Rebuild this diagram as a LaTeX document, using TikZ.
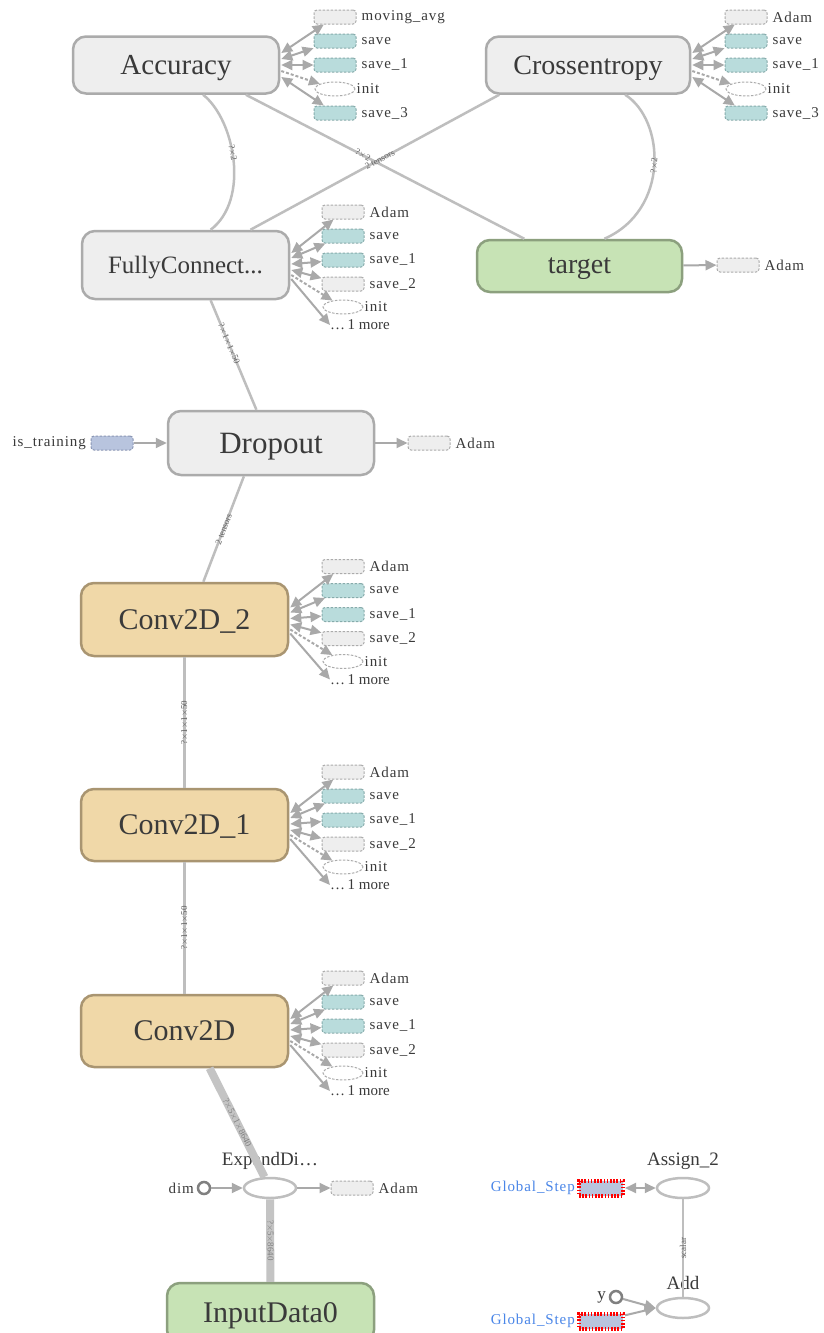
\documentclass[tikz,border=0pt]{standalone}
\usepackage{fontspec}
\setmainfont{Liberation Serif}
\newfontfamily\auxfont[LetterSpace=6]{Liberation Serif}
\usetikzlibrary{arrows.meta,shapes.geometric,calc}

\definecolor{opfill}{HTML}{EEEEEE}
\definecolor{opdraw}{HTML}{ABABAB}
\definecolor{convfill}{HTML}{F0D8A8}
\definecolor{convdraw}{HTML}{A99571}
\definecolor{datafill}{HTML}{C7E3B5}
\definecolor{datadraw}{HTML}{8CA07E}
\definecolor{edgec}{HTML}{BEBEBE}
\definecolor{thickc}{HTML}{C4C4C4}
\definecolor{tipc}{HTML}{A9A9A9}
\definecolor{savefill}{HTML}{B9DCDC}
\definecolor{savedraw}{HTML}{86ABAB}
\definecolor{varfill}{HTML}{B8C4DE}
\definecolor{vardraw}{HTML}{8A96B4}
\definecolor{stepblue}{HTML}{4A86E8}
\definecolor{txt}{HTML}{3A3A3A}
\definecolor{lbl}{HTML}{606060}

\newcommand{\fs}[1]{\fontsize{#1}{#1}\selectfont}

% one auxiliary item: box/ellipse plus its label to the right
\newcommand{\auxitem}[5]{%
  \node[#2] (#1) at (#3,#4) {};
  \node[auxlbl] (#1-l) at ($(#1.east)+(5,0)$) {#5};}
% the "... 1 more" entry, which has no box
\newcommand{\moreitem}[3]{%
  \node[auxlbl, font=\fs{15}] (#1) at (#2,#3) {\ldots\,1 more};}
% connector from a group's right border to an auxiliary item
\newcommand{\auxlink}[4]{%
  \draw[#1] ($(#2.east)+(1,#4)$) -- (#3);}

\tikzset{
  x=1pt, y=-1pt,
  group/.style={rectangle, rounded corners=13pt, line width=2.5pt,
    draw=opdraw, fill=opfill, text=txt, inner sep=0pt, text depth=0pt},
  convgrp/.style={group, draw=convdraw, fill=convfill},
  datagrp/.style={group, draw=datadraw, fill=datafill},
  auxgray/.style={rectangle, rounded corners=3pt, draw=opdraw, line width=1pt,
    dash pattern=on 2.5pt off 1.5pt, fill=opfill,
    minimum width=42pt, minimum height=14pt, inner sep=0pt},
  auxsave/.style={auxgray, draw=savedraw, fill=savefill},
  auxvar/.style={auxgray, draw=vardraw, fill=varfill},
  auxinit/.style={ellipse, draw=opdraw, line width=1pt,
    dash pattern=on 2.5pt off 1.5pt, fill=white,
    minimum width=40pt, minimum height=14pt, inner sep=0pt},
  auxlbl/.style={anchor=west, font=\auxfont\fs{15}, text=txt, inner sep=0pt},
  flow/.style={draw=edgec, line width=2.5pt},
  thick flow/.style={draw=thickc, line width=8pt},
  tip/.style={-{Triangle[length=11pt,width=10pt,color=tipc]}},
  both tips/.style={{Triangle[length=11pt,width=10pt,color=tipc]}-{Triangle[length=11pt,width=10pt,color=tipc]}},
  ctrl/.style={draw=tipc, line width=2pt, both tips},
  ctrlone/.style={draw=tipc, line width=2pt, tip},
  ctrldash/.style={draw=tipc, line width=2pt, tip, dash pattern=on 3pt off 2pt},
  elabel/.style={sloped, font=\fs{9}, text=lbl, inner sep=1pt},
  opnode/.style={ellipse, draw=edgec, line width=2.5pt, fill=white,
    minimum width=52pt, minimum height=20pt, inner sep=0pt},
  const/.style={circle, draw=gray, line width=2.5pt, fill=white,
    minimum size=12pt, inner sep=0pt},
  steplbl/.style={anchor=east, font=\auxfont\fs{15}, text=stepblue, inner sep=0pt},
  stepvar/.style={rectangle, draw=red, line width=4pt,
    dash pattern=on 1.6pt off 1.6pt, fill=varfill,
    minimum width=44pt, minimum height=15pt, inner sep=0pt},
  oplbl/.style={font=\fs{19}, text=txt, inner sep=0pt},
}

\begin{document}
\begin{tikzpicture}
\useasboundingbox[fill=white] (0,0) rectangle (823,1333);

% ---------- main groups ----------
\node[group, minimum width=206pt, minimum height=57pt, font=\fs{29}] (acc) at (176,65) {Accuracy};
\node[group, minimum width=204pt, minimum height=57pt, font=\fs{28}] (xent) at (588,65) {Crossentropy};
\node[group, minimum width=207pt, minimum height=68pt, font=\fs{25}] (fc) at (185.5,265) {FullyConnect...};
\node[datagrp, minimum width=205pt, minimum height=52pt, font=\fs{28}] (target) at (579.5,266) {target};
\node[group, minimum width=206pt, minimum height=64pt, font=\fs{31}] (drop) at (271,443) {Dropout};
\node[convgrp, minimum width=207pt, minimum height=73pt, font=\fs{30}] (conv2) at (184.5,619.5) {Conv2D\_2};
\node[convgrp, minimum width=207pt, minimum height=72pt, font=\fs{30}] (conv1) at (184.5,825) {Conv2D\_1};
\node[convgrp, minimum width=207pt, minimum height=72pt, font=\fs{30}] (conv0) at (184.5,1031) {Conv2D};
\node[datagrp, minimum width=207pt, minimum height=60pt, font=\fs{30}] (input) at (270.5,1313) {InputData0};

% ---------- data-flow edges between groups ----------
\draw[flow] ($(fc.north west)!0.62!(fc.north east)$)
  .. controls (250,200) and (235,120) ..
  node[elabel, pos=0.55] {?$\times$2} ($(acc.south west)!0.63!(acc.south east)$);
\draw[flow] ($(target.north west)!0.234!(target.north east)$)
  -- node[elabel, pos=0.58] {?$\times$2} ($(acc.south west)!0.835!(acc.south east)$);
\draw[flow] ($(fc.north west)!0.81!(fc.north east)$)
  -- node[elabel, pos=0.52] {2 tensors} ($(xent.south west)!0.07!(xent.south east)$);
\draw[flow] ($(target.north west)!0.62!(target.north east)$)
  .. controls (670,210) and (665,120) ..
  node[elabel, pos=0.5] {?$\times$2} ($(xent.south west)!0.68!(xent.south east)$);
\draw[flow] ($(drop.north west)!0.43!(drop.north east)$)
  -- node[elabel, pos=0.6] {?$\times$1$\times$1$\times$50} ($(fc.south west)!0.62!(fc.south east)$);
\draw[flow] ($(conv2.north west)!0.59!(conv2.north east)$)
  -- node[elabel, pos=0.5] {2 tensors} ($(drop.south west)!0.37!(drop.south east)$);
\draw[flow] (conv1) -- node[elabel] {?$\times$1$\times$1$\times$50} (conv2);
\draw[flow] (conv0) -- node[elabel] {?$\times$1$\times$1$\times$50} (conv1);

% ---------- Accuracy auxiliaries ----------
\auxitem{acc-a}{auxgray}{335}{17}{moving\_avg}
\auxitem{acc-b}{auxsave}{335}{41}{save}
\auxitem{acc-c}{auxsave}{335}{65}{save\_1}
\node[auxinit] (acc-d) at (335,89) {};
\node[auxlbl] at ($(acc-d.east)+(1,0)$) {init};
\auxitem{acc-e}{auxsave}{335}{113}{save\_3}
\auxlink{ctrl}{acc}{acc-a}{-12}
\auxlink{ctrl}{acc}{acc-b}{-6}
\auxlink{ctrl}{acc}{acc-c}{0}
\auxlink{ctrldash}{acc}{acc-d}{6}
\auxlink{ctrl}{acc}{acc-e}{12}

% ---------- Crossentropy auxiliaries ----------
\auxitem{xent-a}{auxgray}{746}{17}{Adam}
\auxitem{xent-b}{auxsave}{746}{41}{save}
\auxitem{xent-c}{auxsave}{746}{65}{save\_1}
\node[auxinit] (xent-d) at (746,89) {};
\node[auxlbl] at ($(xent-d.east)+(1,0)$) {init};
\auxitem{xent-e}{auxsave}{746}{113}{save\_3}
\auxlink{ctrl}{xent}{xent-a}{-12}
\auxlink{ctrl}{xent}{xent-b}{-6}
\auxlink{ctrl}{xent}{xent-c}{0}
\auxlink{ctrldash}{xent}{xent-d}{6}
\auxlink{ctrl}{xent}{xent-e}{12}

% ---------- FullyConnected and Conv2D auxiliaries ----------
\foreach \g/\cy in {fc/265, conv2/619.5, conv1/825, conv0/1031} {
  \auxitem{\g-a}{auxgray}{343}{\cy-53}{Adam}
  \auxitem{\g-b}{auxsave}{343}{\cy-29}{save}
  \auxitem{\g-c}{auxsave}{343}{\cy-5}{save\_1}
  \auxitem{\g-d}{auxgray}{343}{\cy+19}{save\_2}
  \node[auxinit] (\g-e) at (343,\cy+42) {};
  \node[auxlbl] at ($(\g-e.east)+(1,0)$) {init};
  \moreitem{\g-f}{330}{\cy+60}
  \auxlink{ctrl}{\g}{\g-a}{-12}
  \auxlink{ctrl}{\g}{\g-b}{-7}
  \auxlink{ctrl}{\g}{\g-c}{-1}
  \auxlink{ctrl}{\g}{\g-d}{5}
  \auxlink{ctrldash}{\g}{\g-e}{10}
  \auxlink{ctrlone}{\g}{\g-f.west}{14}
}

% ---------- Dropout and target auxiliaries ----------
\node[auxvar] (istrain) at (112,443) {};
\node[anchor=east, font=\auxfont\fs{15}, text=txt, inner sep=0pt] (istrain-l) at (86,443) {is\_training};
\draw[ctrlone] (istrain) -- (drop);
\auxitem{drop-a}{auxgray}{429}{443}{Adam}
\draw[ctrlone] (drop) -- (drop-a);
\auxitem{target-a}{auxgray}{738}{265}{Adam}
\draw[ctrlone] (target) -- (target-a);

% ---------- input pipeline ----------
\node[opnode] (expand) at (270,1188) {};
\node[oplbl] (expand-l) at (270,1161) {ExpandDi\ldots};
\node[const] (dim) at (204,1188) {};
\node[anchor=east, font=\auxfont\fs{15}, text=txt, inner sep=0pt] (dim-l) at (194,1188) {dim};
\auxitem{expand-a}{auxgray}{352}{1188}{Adam}
\draw[ctrlone] (dim) -- (expand);
\draw[ctrlone] (expand) -- (expand-a);
\draw[thick flow] (input) -- node[elabel, text=gray] {?$\times$5$\times$8640} (expand);
\draw[thick flow] (expand) -- node[elabel, text=gray] {?$\times$5$\times$1$\times$8640}
  ($(conv0.south west)!0.62!(conv0.south east)$);

% ---------- global step update ----------
\node[opnode] (assign) at (683,1188) {};
\node[oplbl] (assign-l) at (683,1161) {Assign\_2};
\node[stepvar] (gs1) at (601,1188) {};
\node[steplbl] (gs1-l) at (575,1188) {Global\_Step};
\draw[ctrl] (gs1) -- (assign);
\node[opnode] (add) at (683,1308) {};
\node[oplbl] (add-l) at (683,1283) {Add};
\node[const] (y) at (616,1297) {};
\node[anchor=east, font=\auxfont\fs{17}, text=txt, inner sep=0pt] (y-l) at (606,1297) {y};
\node[stepvar] (gs2) at (601,1321) {};
\node[steplbl] (gs2-l) at (575,1321) {Global\_Step};
\draw[ctrlone] (y) -- (add.west);
\draw[ctrlone] (gs2) -- (add.west);
\draw[flow, line width=2pt] (add) -- node[elabel] {scalar} (assign);
\end{tikzpicture}
\end{document}
